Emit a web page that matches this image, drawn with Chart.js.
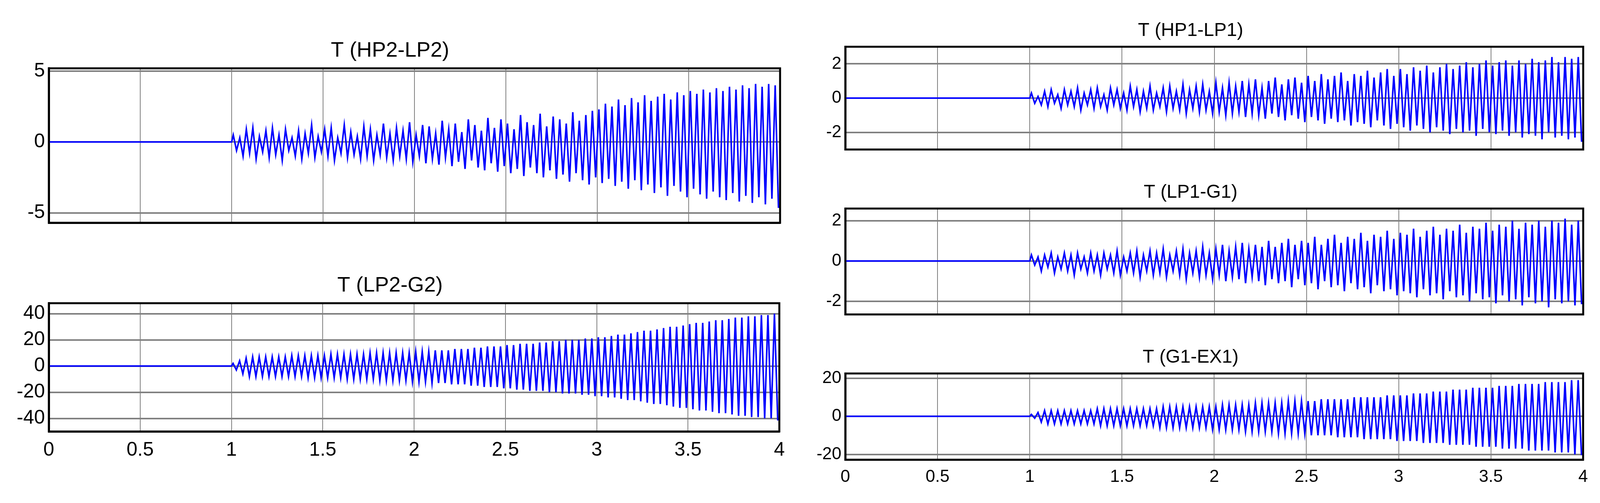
<!DOCTYPE html>
<html><head><meta charset="utf-8">
<script src="https://cdn.jsdelivr.net/npm/chart.js@4/dist/chart.umd.min.js"></script>
<style>body{margin:0;background:#fff;width:4180px;height:1287px;position:relative;overflow:hidden}
.b{position:absolute}</style></head><body>
<div class="b" style="left:0;top:98px;width:2027px;height:512px"><canvas id="c1"></canvas></div>
<div class="b" style="left:0;top:699px;width:2027px;height:501px"><canvas id="c2"></canvas></div>
<div class="b" style="left:2043px;top:50px;width:2040px;height:369px"><canvas id="c3"></canvas></div>
<div class="b" style="left:2043px;top:464px;width:2040px;height:377px"><canvas id="c4"></canvas></div>
<div class="b" style="left:2043px;top:886px;width:2040px;height:379px"><canvas id="c5"></canvas></div>
<script>
const xTicks=[0,0.5,1,1.5,2,2.5,3,3.5,4];
const cycleRate=28;
const hp2Peaks=[0.5,0.3,0.9,1.0,0.4,0.8,1.0,0.5,0.9,0.3,0.8,0.6,1.2,0.4,0.9,1.0,0.3,1.2,0.7,0.4,1.1,0.9,0.5,1.3,0.6,1.0,0.8,1.4,
0.5,1.2,1.1,0.6,1.5,0.9,1.3,0.7,1.6,1.2,0.8,1.7,1.0,1.6,1.3,0.9,1.9,1.4,1.2,2.0,1.1,1.8,1.6,1.3,2.1,1.5,1.9,2.2,
2.3,2.7,2.5,3.0,2.6,3.1,2.8,3.3,2.9,3.2,3.4,3.0,3.5,3.3,3.6,3.4,3.7,3.5,3.8,3.6,3.9,3.7,4.0,3.8,4.1,3.9,4.1,4.0];
const hp2Troughs=[-0.6,-1.0,-0.8,-1.2,-0.7,-1.1,-0.9,-1.3,-0.6,-1.0,-1.2,-0.8,-1.1,-0.7,-1.0,-1.3,-0.8,-1.1,-0.9,-1.2,-1.0,-1.3,-0.9,-1.1,-1.3,-1.0,-1.2,-1.4,
-1.0,-1.5,-1.2,-1.6,-1.1,-1.7,-1.4,-1.9,-1.3,-1.8,-2.0,-1.5,-2.1,-1.7,-2.2,-1.9,-2.4,-1.8,-2.2,-2.5,-2.0,-2.6,-2.3,-2.8,-2.2,-2.7,-3.0,-2.5,
-2.9,-2.6,-3.1,-2.8,-3.3,-2.7,-3.4,-3.0,-3.6,-3.2,-3.8,-3.1,-3.5,-3.9,-3.3,-3.7,-4.0,-3.5,-3.9,-4.1,-3.6,-4.2,-3.8,-4.3,-3.9,-4.4,-4.0,-4.6];
const lp2Peaks=[2,4,6,7,7,7,7,7,7,8,8,8,8,8,8,9,9,9,9,9,9,10,10,10,10,10,10,10,
11,11,11,12,12,12,13,13,13,14,14,15,15,15,16,16,17,17,17,18,18,19,19,20,20,20,21,21,
22,22,23,24,24,25,26,27,27,28,29,30,30,31,32,33,33,34,35,35,36,37,37,38,38,39,39,40];
const lp2Troughs=[-3,-6,-8,-8,-8,-8,-8,-8,-8,-8,-8,-9,-9,-9,-9,-9,-9,-10,-10,-10,-10,-10,-11,-11,-11,-11,-11,-12,
-12,-12,-13,-13,-13,-14,-14,-14,-15,-15,-16,-16,-16,-17,-17,-18,-18,-19,-19,-19,-20,-20,-21,-21,-21,-22,-22,-23,
-23,-24,-24,-25,-26,-26,-27,-28,-29,-29,-30,-31,-32,-32,-33,-34,-34,-35,-36,-36,-37,-38,-38,-39,-39,-40,-40,-41];
const hp1Peaks=[0.3,0.1,0.4,0.5,0.2,0.5,0.4,0.6,0.3,0.5,0.6,0.2,0.6,0.5,0.3,0.7,0.5,0.4,0.7,0.3,0.6,0.7,0.4,0.8,0.5,0.7,0.8,0.4,
0.9,0.6,0.9,0.7,1.0,0.8,1.1,0.6,1.0,1.2,0.8,1.1,1.2,0.9,1.3,1.0,1.4,1.1,1.3,1.5,1.0,1.4,1.3,1.6,1.2,1.5,1.7,1.3,
1.7,1.4,1.8,1.6,1.9,1.5,1.8,2.0,1.7,1.9,2.1,1.8,2.0,2.2,1.9,2.1,2.2,1.9,2.2,2.0,2.3,2.1,2.2,2.4,2.1,2.4,2.3,2.4];
const hp1Troughs=[-0.3,-0.4,-0.5,-0.3,-0.6,-0.4,-0.5,-0.7,-0.4,-0.6,-0.5,-0.7,-0.4,-0.6,-0.7,-0.5,-0.8,-0.6,-0.7,-0.5,-0.8,-0.6,-0.7,-0.9,-0.6,-0.8,-0.7,-0.9,
-0.8,-1.0,-0.9,-0.8,-1.1,-0.9,-1.0,-1.2,-0.9,-1.1,-1.3,-1.0,-1.2,-1.4,-1.1,-1.3,-1.5,-1.2,-1.4,-1.3,-1.6,-1.4,-1.5,-1.7,-1.3,-1.6,-1.8,-1.5,
-1.7,-1.9,-1.6,-1.8,-2.0,-1.7,-1.9,-2.1,-1.8,-2.0,-1.9,-2.2,-1.8,-2.0,-2.1,-1.9,-2.2,-2.0,-2.3,-2.1,-2.2,-2.4,-2.0,-2.3,-2.2,-2.4,-2.3,-2.5];
const lp1Peaks=[0.3,0.2,0.3,0.4,0.2,0.4,0.3,0.4,0.2,0.4,0.3,0.4,0.3,0.5,0.2,0.4,0.5,0.3,0.5,0.4,0.6,0.3,0.5,0.6,0.4,0.5,0.7,0.4,
0.6,0.8,0.5,0.7,0.9,0.6,0.8,0.7,1.0,0.7,0.9,1.1,0.8,1.0,0.9,1.2,0.8,1.1,1.3,0.9,1.2,1.1,1.4,1.0,1.3,1.2,1.5,1.1,
1.4,1.3,1.6,1.2,1.5,1.7,1.3,1.6,1.5,1.8,1.4,1.7,1.6,1.9,1.5,1.8,1.7,2.0,1.6,1.9,1.8,2.0,1.7,2.0,1.9,2.1,1.8,2.0];
const lp1Troughs=[-0.2,-0.5,-0.3,-0.6,-0.4,-0.5,-0.7,-0.4,-0.6,-0.5,-0.7,-0.4,-0.6,-0.7,-0.5,-0.6,-0.8,-0.5,-0.7,-0.6,-0.8,-0.5,-0.7,-0.9,-0.6,-0.8,-0.7,-0.9,
-0.7,-1.0,-0.8,-0.9,-1.1,-0.8,-1.0,-1.2,-0.9,-1.1,-1.0,-1.3,-0.9,-1.2,-1.1,-1.4,-1.0,-1.3,-1.2,-1.5,-1.1,-1.4,-1.3,-1.6,-1.2,-1.5,-1.4,-1.7,
-1.5,-1.6,-1.8,-1.4,-1.7,-1.6,-1.9,-1.5,-1.8,-1.7,-2.0,-1.6,-1.9,-1.8,-2.1,-1.7,-2.0,-1.9,-2.2,-1.8,-2.1,-2.0,-2.3,-1.9,-2.1,-2.0,-2.2,-2.1];
const g1Peaks=[1,2,3,3,3,3,3,3,3,3,4,4,4,4,4,4,4,4,4,4,5,5,5,5,5,5,5,5,
5,6,6,6,6,6,7,7,7,7,7,8,8,8,8,8,9,9,9,9,9,10,10,10,10,10,11,11,
11,11,12,12,12,13,13,13,14,14,14,15,15,15,15,16,16,16,17,17,17,17,18,18,18,18,19,19];
const g1Troughs=[-1,-3,-4,-4,-4,-4,-4,-4,-4,-4,-5,-5,-5,-5,-5,-5,-5,-5,-5,-6,-6,-6,-6,-6,-6,-6,-6,-7,
-7,-7,-7,-7,-8,-8,-8,-8,-8,-9,-9,-9,-9,-9,-10,-10,-10,-10,-11,-11,-11,-11,-12,-12,-12,-12,-12,-13,
-13,-13,-13,-14,-14,-14,-14,-15,-15,-15,-15,-16,-16,-16,-16,-17,-17,-17,-17,-18,-18,-18,-18,-19,-19,-19,-20,-20];

function series(peaks,troughs){
  const pts=[{x:0,y:0},{x:1,y:0}];
  for(let i=0;i<peaks.length;i++){
    pts.push({x:1+(i+0.25)/cycleRate,y:peaks[i]});
    pts.push({x:1+(i+0.75)/cycleRate,y:troughs[i]});
  }
  pts.push({x:4,y:troughs[troughs.length-1]});
  return pts;
}
const boxPlugin={id:'box',afterDraw(c){const a=c.chartArea,ctx=c.ctx;ctx.save();ctx.strokeStyle='#000';ctx.lineWidth=5;
  ctx.strokeRect(a.left,a.top,a.right-a.left,a.bottom-a.top);ctx.restore();}};
const FONT="'Liberation Sans Narrow','Liberation Sans',Arial,sans-serif";
function make(id,title,pk,tr,ymin,ymax,yT,showX,yW,tFont,tkFont,titlePad){
  new Chart(document.getElementById(id),{type:'line',plugins:[boxPlugin],
    data:{datasets:[{data:series(pk,tr),borderColor:'#0000ff',borderWidth:4,pointRadius:0,tension:0}]},
    options:{responsive:true,maintainAspectRatio:false,animation:false,
      layout:{padding:{right:30,left:0}},
      plugins:{legend:{display:false},tooltip:{enabled:false},
        title:{display:true,text:title,color:'#000',font:{family:FONT,size:tFont,weight:'normal'},padding:{top:0,bottom:titlePad}}},
      scales:{
        x:{type:'linear',min:0,max:4,afterBuildTicks:s=>{s.ticks=xTicks.map(v=>({value:v}));},
          grid:{color:'#808080',lineWidth:2,tickLength:0},border:{color:'#000',width:5},
          ticks:{display:showX,color:'#000',font:{family:FONT,size:tkFont},padding:18,maxRotation:0,callback:v=>String(v)}},
        y:{type:'linear',min:ymin,max:ymax,afterBuildTicks:s=>{s.ticks=yT.map(v=>({value:v}));},
          afterFit:s=>{s.width=yW;},
          grid:{color:'#808080',lineWidth:4,tickLength:0},border:{color:'#000',width:5},
          ticks:{color:'#000',font:{family:FONT,size:tkFont},padding:10}}
      }}});
}
make('c1','T (HP2-LP2)',hp2Peaks,hp2Troughs,-5.7,5.2,[-5,0,5],false,125,54,50,12);
make('c2','T (LP2-G2)',lp2Peaks,lp2Troughs,-50,48,[-40,-20,0,20,40],true,125,54,50,12);
make('c3','T (HP1-LP1)',hp1Peaks,hp1Troughs,-3,3,[-2,0,2],false,121,48,44,12);
make('c4','T (LP1-G1)',lp1Peaks,lp1Troughs,-2.65,2.6,[-2,0,2],false,121,48,44,12);
make('c5','T (G1-EX1)',g1Peaks,g1Troughs,-22.8,22.5,[-20,0,20],true,121,48,44,12);
</script></body></html>
